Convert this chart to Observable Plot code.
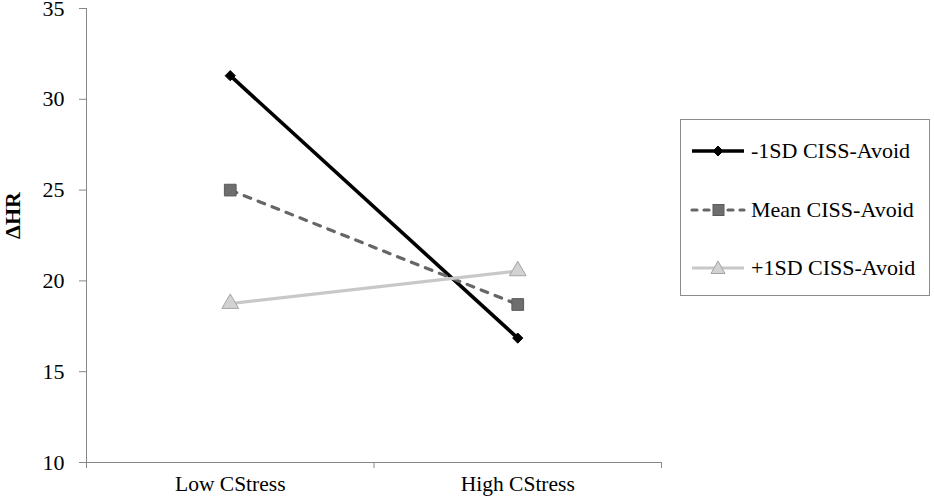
<!DOCTYPE html>
<html>
<head>
<meta charset="utf-8">
<script src="https://cdn.jsdelivr.net/npm/d3@7"></script>
<script src="https://cdn.jsdelivr.net/npm/@observablehq/plot@0.6"></script>
<style>
  html, body { margin: 0; padding: 0; background: #fff; }
  #wrap { position: relative; width: 934px; height: 497px; font-family: "Liberation Serif", "DejaVu Serif", "Times New Roman", serif; }
  #legend { position: absolute; left: 680px; top: 119px; width: 250px; height: 177px; box-sizing: border-box; border: 1px solid #8c8c8c; background: #fff; }
  .row { position: absolute; left: 9px; height: 24px; display: flex; align-items: center; font-size: 22px; color: #000; white-space: nowrap; font-family: "Liberation Serif", "DejaVu Serif", serif; }
  .row svg { margin-right: 5px; }
  #chart svg text { font-family: "Liberation Serif", "DejaVu Serif", serif; }
</style>
</head>
<body>
<div id="wrap"><div id="chart"></div><div id="legend"></div></div>
<script>
// ---- data ----
const categories = ["Low CStress", "High CStress"];
const seriesNames = ["-1SD CISS-Avoid", "Mean CISS-Avoid", "+1SD CISS-Avoid"];
const lowSDValues = [31.3, 16.85];
const meanValues = [25.0, 18.7];
const highSDValues = [18.75, 20.55];
const yTicks = [10, 15, 20, 25, 30, 35];
const yLabel = "ΔHR";

// ---- styles ----
const styles = [
  {stroke: "#000000", strokeWidth: 3.6, dash: null, symbol: "diamond2", r: 4.6, fill: "#000000", dotStroke: "#000000"},
  {stroke: "#666666", strokeWidth: 3.2, dash: "7,8", symbol: "square", r: 6.6, fill: "#6e6e6e", dotStroke: "#5a5a5a"},
  {stroke: "#c8c8c8", strokeWidth: 3.2, dash: null, symbol: "triangle", r: 6.2, fill: "#d2d2d2", dotStroke: "#a4a4a4"}
];

const allValues = [lowSDValues, meanValues, highSDValues];
const data = seriesNames.flatMap((s, k) => allValues[k].map((v, i) => ({series: s, x: i, y: v})));

const axisColor = "#878787";
const serif = "Liberation Serif, DejaVu Serif, serif";

const marks = [
  Plot.frame({anchor: "left", stroke: axisColor}),
  Plot.frame({anchor: "bottom", stroke: axisColor}),
  Plot.axisY({ticks: yTicks, tickSize: 7, tickPadding: 15, stroke: axisColor, label: null, fontSize: 22, fontFamily: serif}),
  Plot.axisX({ticks: [-0.5, 0.5, 1.5], tickSize: 6, tickFormat: () => "", stroke: axisColor, label: null}),
  Plot.axisX({ticks: [0, 1], tickSize: 0, tickPadding: 13, tickFormat: i => categories[i], label: null, fontSize: 21.5, fontFamily: serif}),
  Plot.text([yLabel], {frameAnchor: "left", textAnchor: "middle", rotate: -90, dx: -74, dy: -20, fontWeight: "bold", fontSize: 22, fontFamily: serif})
];

seriesNames.forEach((s, k) => {
  const st = styles[k];
  const d = data.filter(p => p.series === s);
  marks.push(Plot.line(d, {x: "x", y: "y", stroke: st.stroke, strokeWidth: st.strokeWidth, strokeDasharray: st.dash, strokeLinecap: st.dash ? "round" : "butt"}));
});
seriesNames.forEach((s, k) => {
  const st = styles[k];
  const d = data.filter(p => p.series === s);
  marks.push(Plot.dot(d, {x: "x", y: "y", symbol: st.symbol, r: st.r, fill: st.fill, stroke: st.dotStroke, strokeWidth: 1}));
});

const chart = Plot.plot({
  width: 934,
  height: 497,
  marginLeft: 86,
  marginRight: 273,
  marginTop: 8,
  marginBottom: 35,
  x: {domain: [-0.5, 1.5]},
  y: {domain: [10, 35]},
  style: {fontFamily: serif, fontSize: "22px", background: "white", color: "#000"},
  marks
});
document.getElementById("chart").appendChild(chart);

// ---- legend ----
const legend = document.getElementById("legend");
const rowTops = [19, 78, 136];
seriesNames.forEach((s, k) => {
  const st = styles[k];
  const row = document.createElement("div");
  row.className = "row";
  row.style.top = rowTops[k] + "px";
  const ns = "http://www.w3.org/2000/svg";
  const svg = document.createElementNS(ns, "svg");
  svg.setAttribute("width", 56);
  svg.setAttribute("height", 20);
  const line = document.createElementNS(ns, "line");
  line.setAttribute("x1", 2); line.setAttribute("x2", 54);
  line.setAttribute("y1", 10); line.setAttribute("y2", 10);
  line.setAttribute("stroke", st.stroke);
  line.setAttribute("stroke-width", st.strokeWidth);
  if (st.dash) { line.setAttribute("stroke-dasharray", "5,7"); line.setAttribute("stroke-linecap", "round"); }
  svg.appendChild(line);
  let shape;
  if (k === 0) {
    shape = document.createElementNS(ns, "path");
    shape.setAttribute("d", "M28,5 L33,10 L28,15 L23,10 Z");
  } else if (k === 1) {
    shape = document.createElementNS(ns, "rect");
    shape.setAttribute("x", 23); shape.setAttribute("y", 4.5);
    shape.setAttribute("width", 11); shape.setAttribute("height", 11);
  } else {
    shape = document.createElementNS(ns, "path");
    shape.setAttribute("d", "M28,3 L35,15.5 L21,15.5 Z");
  }
  shape.setAttribute("fill", st.fill);
  shape.setAttribute("stroke", st.dotStroke);
  shape.setAttribute("stroke-width", 1);
  svg.appendChild(shape);
  row.appendChild(svg);
  const span = document.createElement("span");
  span.textContent = s;
  row.appendChild(span);
  legend.appendChild(row);
});
</script>
</body>
</html>
